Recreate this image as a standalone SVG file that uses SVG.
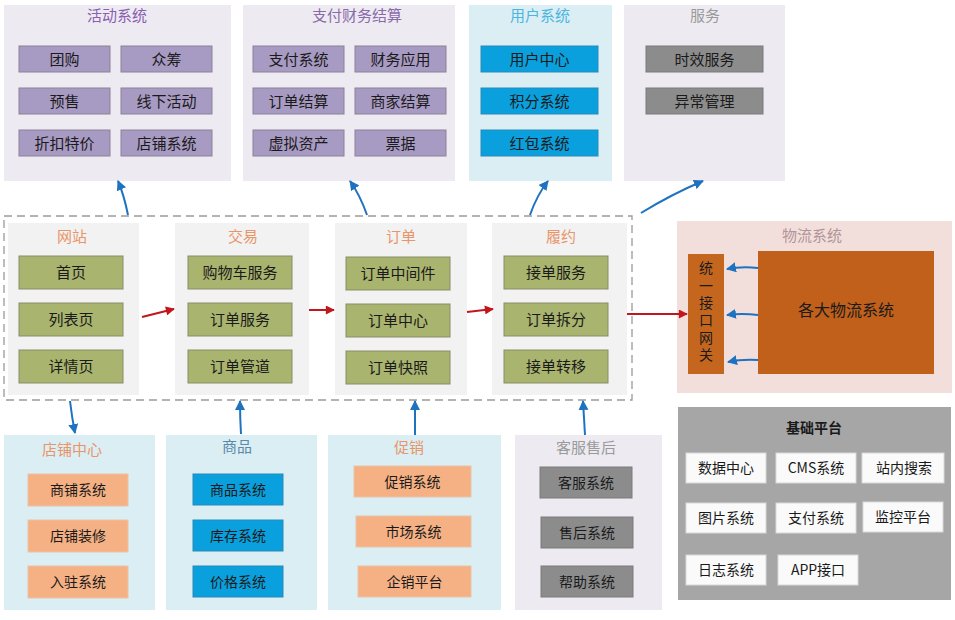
<svg xmlns="http://www.w3.org/2000/svg" width="955" height="620" viewBox="0 0 955 620">
<defs>
<marker id="ab" viewBox="0 0 10 10" refX="9" refY="5" markerWidth="10" markerHeight="10" markerUnits="userSpaceOnUse" orient="auto"><path d="M0,0 L10,5 L0,10 z" fill="#1f72c0"/></marker>
<marker id="ar" viewBox="0 0 10 10" refX="9" refY="5" markerWidth="10" markerHeight="9" markerUnits="userSpaceOnUse" orient="auto"><path d="M0,0 L10,5 L0,10 z" fill="#c0161c"/></marker>
</defs>
<style>
text{font-family:"Noto Sans CJK SC","Liberation Sans",sans-serif;text-anchor:middle;dominant-baseline:central}
.t{font-size:15px}
.b{font-size:15px;fill:#1a1a1a}
.s{font-size:14px;fill:#1a1a1a}
.v{font-size:14px;fill:#1a1a1a;writing-mode:vertical-rl;letter-spacing:3.3px}
.lav{fill:#edebf1}
.lb{fill:#dbeef4}
.gp{fill:#f2f2f2}
.pur{fill:#a89bc3;stroke:#8c8098;stroke-width:1}
.blu{fill:#0aa0dd;stroke:#2a8ab8;stroke-width:1}
.gry{fill:#8c8c8c;stroke:#7a7a7a;stroke-width:1}
.olv{fill:#a9b46e;stroke:#8b8b6a;stroke-width:1}
.pch{fill:#f5b184;stroke:#e8c4a8;stroke-width:1}
.wht{fill:#fafafa;stroke:#d8d8d8;stroke-width:1}
.cb{fill:none;stroke:#1f72c0;stroke-width:2}
.cr{fill:none;stroke:#c0161c;stroke-width:2}
</style>
<rect width="955" height="620" fill="#ffffff"/>

<g id="huodong">
<rect x="4" y="5" width="227" height="176" class="lav"/>
<text x="117" y="14" class="t" fill="#8a5eb0">活动系统</text>
<rect x="19" y="46" width="91" height="26" class="pur"/><text x="64.5" y="58" class="b">团购</text>
<rect x="121" y="46" width="91" height="26" class="pur"/><text x="166.5" y="58" class="b">众筹</text>
<rect x="19" y="88" width="91" height="26" class="pur"/><text x="64.5" y="100" class="b">预售</text>
<rect x="121" y="88" width="91" height="26" class="pur"/><text x="166.5" y="100" class="b">线下活动</text>
<rect x="19" y="130" width="91" height="26" class="pur"/><text x="64.5" y="142" class="b">折扣特价</text>
<rect x="121" y="130" width="91" height="26" class="pur"/><text x="166.5" y="142" class="b">店铺系统</text>
</g>

<g id="zhifu">
<rect x="243" y="5" width="212" height="176" class="lav"/>
<text x="357" y="14" class="t" fill="#8a6aaa">支付财务结算</text>
<rect x="253" y="46" width="91" height="26" class="pur"/><text x="298.5" y="58" class="b">支付系统</text>
<rect x="355" y="46" width="91" height="26" class="pur"/><text x="400.5" y="58" class="b">财务应用</text>
<rect x="253" y="88" width="91" height="26" class="pur"/><text x="298.5" y="100" class="b">订单结算</text>
<rect x="355" y="88" width="91" height="26" class="pur"/><text x="400.5" y="100" class="b">商家结算</text>
<rect x="253" y="130" width="91" height="26" class="pur"/><text x="298.5" y="142" class="b">虚拟资产</text>
<rect x="355" y="130" width="91" height="26" class="pur"/><text x="400.5" y="142" class="b">票据</text>
</g>

<g id="yonghu">
<rect x="469" y="5" width="143" height="176" class="lb"/>
<text x="540" y="14" class="t" fill="#4cb6e0">用户系统</text>
<rect x="481" y="46" width="117" height="26" class="blu"/><text x="539.5" y="58" class="b">用户中心</text>
<rect x="481" y="88" width="117" height="26" class="blu"/><text x="539.5" y="100" class="b">积分系统</text>
<rect x="481" y="130" width="117" height="26" class="blu"/><text x="539.5" y="142" class="b">红包系统</text>
</g>

<g id="fuwu">
<rect x="624" y="5" width="161" height="176" class="lav"/>
<text x="705" y="14" class="t" fill="#9a9a9a">服务</text>
<rect x="646" y="46" width="117" height="26" class="gry"/><text x="704.5" y="58" class="b">时效服务</text>
<rect x="646" y="88" width="117" height="26" class="gry"/><text x="704.5" y="100" class="b">异常管理</text>
</g>

<g id="core">
<rect x="4" y="216" width="628" height="184" fill="none" stroke="#9a9a9a" stroke-width="1.3" stroke-dasharray="8,5"/>
</g>

<g id="wangzhan">
<rect x="8" y="223" width="131" height="172" class="gp"/>
<text x="72" y="235" class="t" fill="#e8956a">网站</text>
<rect x="19" y="256" width="104" height="33" class="olv"/><text x="71" y="271.5" class="b">首页</text>
<rect x="19" y="303" width="104" height="33" class="olv"/><text x="71" y="318.5" class="b">列表页</text>
<rect x="19" y="350" width="104" height="33" class="olv"/><text x="71" y="365.5" class="b">详情页</text>
</g>

<g id="jiaoyi">
<rect x="175" y="223" width="134" height="172" class="gp"/>
<text x="243" y="235" class="t" fill="#e8956a">交易</text>
<rect x="188" y="256" width="104" height="33" class="olv"/><text x="240" y="271.5" class="b">购物车服务</text>
<rect x="188" y="303" width="104" height="33" class="olv"/><text x="240" y="318.5" class="b">订单服务</text>
<rect x="188" y="350" width="104" height="33" class="olv"/><text x="240" y="365.5" class="b">订单管道</text>
</g>

<g id="dingdan">
<rect x="335" y="223" width="132" height="172" class="gp"/>
<text x="401" y="235" class="t" fill="#e8956a">订单</text>
<rect x="346" y="257" width="104" height="33" class="olv"/><text x="398" y="272.5" class="b">订单中间件</text>
<rect x="346" y="304" width="104" height="33" class="olv"/><text x="398" y="319.5" class="b">订单中心</text>
<rect x="346" y="351" width="104" height="33" class="olv"/><text x="398" y="366.5" class="b">订单快照</text>
</g>

<g id="lvyue">
<rect x="492" y="223" width="135" height="172" class="gp"/>
<text x="561" y="235" class="t" fill="#e8956a">履约</text>
<rect x="504" y="256" width="104" height="33" class="olv"/><text x="556" y="271.5" class="b">接单服务</text>
<rect x="504" y="303" width="104" height="33" class="olv"/><text x="556" y="318.5" class="b">订单拆分</text>
<rect x="504" y="350" width="104" height="33" class="olv"/><text x="556" y="365.5" class="b">接单转移</text>
</g>

<g id="wuliu">
<rect x="677" y="221" width="275" height="172" fill="#f2dfdc"/>
<text x="812" y="234" class="t" fill="#b39499">物流系统</text>
<rect x="688" y="254" width="36" height="120" fill="#c5661f"/>
<text x="706" y="313" class="v">统一接口网关</text>
<rect x="758" y="251" width="176" height="123" fill="#c0601a"/>
<text x="846" y="309" class="b" style="font-size:16px">各大物流系统</text>
</g>

<g id="dianpu">
<rect x="4" y="435" width="151" height="175" class="lb"/>
<text x="72" y="448" class="t" fill="#e8956a">店铺中心</text>
<rect x="28" y="474" width="100" height="32" class="pch"/><text x="78" y="489" class="s">商铺系统</text>
<rect x="28" y="520" width="100" height="32" class="pch"/><text x="78" y="535" class="s">店铺装修</text>
<rect x="28" y="566" width="100" height="32" class="pch"/><text x="78" y="581" class="s">入驻系统</text>
</g>

<g id="shangpin">
<rect x="166" y="435" width="151" height="175" class="lb"/>
<text x="237" y="445" class="t" fill="#5a8aa8">商品</text>
<rect x="193" y="474" width="90" height="31" class="blu"/><text x="238" y="488.5" class="s">商品系统</text>
<rect x="193" y="520" width="90" height="31" class="blu"/><text x="238" y="534.5" class="s">库存系统</text>
<rect x="193" y="566" width="90" height="31" class="blu"/><text x="238" y="580.5" class="s">价格系统</text>
</g>

<g id="cuxiao">
<rect x="328" y="435" width="173" height="175" class="lb"/>
<text x="409" y="446" class="t" fill="#e8956a">促销</text>
<rect x="354" y="466" width="117" height="31" class="pch"/><text x="412.5" y="480.5" class="s">促销系统</text>
<rect x="356" y="516" width="115" height="31" class="pch"/><text x="413.5" y="530.5" class="s">市场系统</text>
<rect x="358" y="566" width="113" height="31" class="pch"/><text x="414.5" y="580.5" class="s">企销平台</text>
</g>

<g id="kefu">
<rect x="515" y="435" width="147" height="175" class="lav"/>
<text x="586" y="446" class="t" fill="#9a9a9a">客服售后</text>
<rect x="540" y="467" width="92" height="31" class="gry"/><text x="586" y="481.5" class="s">客服系统</text>
<rect x="541" y="517" width="92" height="31" class="gry"/><text x="587" y="531.5" class="s">售后系统</text>
<rect x="541" y="566" width="92" height="31" class="gry"/><text x="587" y="580.5" class="s">帮助系统</text>
</g>

<g id="jichu">
<rect x="678" y="407" width="273" height="193" fill="#a6a6a6"/>
<text x="814" y="427" class="s" style="font-weight:bold">基础平台</text>
<rect x="686" y="453" width="80" height="30" class="wht"/><text x="726" y="467" class="s">数据中心</text>
<rect x="776" y="453" width="80" height="30" class="wht"/><text x="816" y="467" class="s">CMS系统</text>
<rect x="862" y="453" width="82" height="30" class="wht"/><text x="904" y="467" class="s">站内搜索</text>
<rect x="686" y="503" width="80" height="30" class="wht"/><text x="726" y="517" class="s">图片系统</text>
<rect x="776" y="503" width="80" height="30" class="wht"/><text x="816" y="517" class="s">支付系统</text>
<rect x="863" y="502" width="80" height="30" class="wht"/><text x="903" y="516" class="s">监控平台</text>
<rect x="686" y="555" width="80" height="30" class="wht"/><text x="726" y="569" class="s">日志系统</text>
<rect x="778" y="555" width="80" height="30" class="wht"/><text x="818" y="569" class="s">APP接口</text>
</g>

<g id="connectors">
<path d="M128,215 Q124,195 118,181" class="cb" marker-end="url(#ab)"/>
<path d="M367,215 Q360,195 350,181" class="cb" marker-end="url(#ab)"/>
<path d="M530,215 Q537,195 548,181" class="cb" marker-end="url(#ab)"/>
<path d="M641,213 Q672,194 703,181" class="cb" marker-end="url(#ab)"/>
<path d="M70,401 Q72,418 75,433" class="cb" marker-end="url(#ab)"/>
<path d="M241,434 Q240,418 240,401" class="cb" marker-end="url(#ab)"/>
<path d="M415,435 Q415,418 415,401" class="cb" marker-end="url(#ab)"/>
<path d="M585,435 Q584,418 583,401" class="cb" marker-end="url(#ab)"/>
<path d="M142,317 L174,309" class="cr" marker-end="url(#ar)"/>
<path d="M309,310 L334,310" class="cr" marker-end="url(#ar)"/>
<path d="M467,312 L493,309" class="cr" marker-end="url(#ar)"/>
<path d="M627,314 L687,314" class="cr" marker-end="url(#ar)"/>
<path d="M758,268 Q742,266 727,269" class="cb" stroke-width="1.5" marker-end="url(#ab)"/>
<path d="M758,315 Q742,313 727,315" class="cb" stroke-width="1.5" marker-end="url(#ab)"/>
<path d="M758,360 Q742,359 728,362" class="cb" stroke-width="1.5" marker-end="url(#ab)"/>
</g>
</svg>
